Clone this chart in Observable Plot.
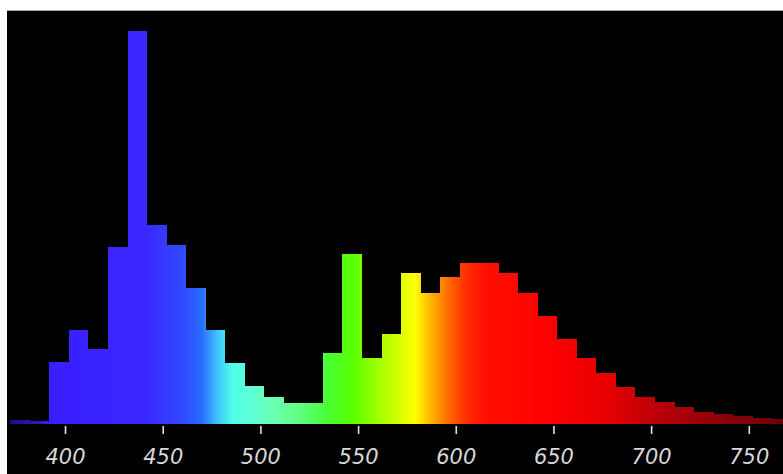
<!DOCTYPE html>
<html>
<head>
<meta charset="utf-8">
<script src="https://cdn.jsdelivr.net/npm/d3@7"></script>
<script src="https://cdn.jsdelivr.net/npm/@observablehq/plot@0.6"></script>
<style>
  html, body { margin: 0; padding: 0; background: #fff; width: 783px; height: 474px; overflow: hidden; }
  #frame { position: absolute; left: 7px; top: 10px; width: 776px; height: 463px; background: #000; border-top: 1px solid #a8a8a8; }
  #frame svg { display: block; background: #000; }
</style>
</head>
<body>
<div id="frame"></div>
<script>
// Wavelength bins (nm, bin start; each bin is 10 nm wide)
const binStart = [372, 382, 392, 402, 412, 422, 432, 442, 452, 462,
                  472, 482, 492, 502, 512, 522, 532, 542, 552, 562,
                  572, 582, 592, 602, 612, 622, 632, 642, 652, 662,
                  672, 682, 692, 702, 712, 722, 732, 742, 752, 762];
// Relative intensity per bin
const intensity = [4, 3, 62, 94, 75, 177, 393, 199, 179, 136,
                   94, 61, 38, 27, 21, 21, 71, 170, 66, 90,
                   151, 131, 147, 161, 161, 151, 131, 108, 85, 66,
                   51, 37, 27, 22, 17, 12, 10, 8, 6, 5];
const binWidth = 10;
// Tick labels (nm)
const tickValues = [400, 450, 500, 550, 600, 650, 700, 750];
// Spectral colour stops (wavelength nm, colour)
const stopWavelengths = [370, 385, 392, 440, 460, 470, 478, 486, 496, 506, 520, 535, 548, 560, 572, 579, 586, 595, 605, 615, 645, 675, 700, 730, 770];
const stopColors = ["#1c0c78", "#2c18b8", "#3a1eff", "#3a26ff", "#3048ff", "#2a6cff", "#40c4ff", "#50ffea", "#60ffd4", "#6cffb4", "#60ff84", "#48ff30", "#5cff00", "#a0ff00", "#dcff00", "#ffff00", "#ffc000", "#ff7400", "#ff3000", "#ff1000", "#ff0000", "#e80000", "#c00008", "#940008", "#6c0008"];

const bins = binStart.map((s, i) => ({x1: s, x2: s + binWidth, value: intensity[i]}));

const plot = Plot.plot({
  width: 776,
  height: 463,
  marginLeft: 0,
  marginRight: 0,
  marginTop: 0,
  marginBottom: 48,
  insetBottom: 2,
  style: {background: "#000", color: "#d8d8d8"},
  x: {domain: [370.3, 767.5]},
  y: {domain: [0, 413], axis: null},
  marks: [
    Plot.rectY(bins, {x1: "x1", x2: "x2", y: "value", fill: "url(#spectrum)", shapeRendering: "crispEdges"}),
    Plot.axisX({
      ticks: tickValues,
      tickSize: 8,
      tickPadding: 15,
      stroke: "#e0e0e0",
      strokeWidth: 1.6,
      fill: "#d8d8d8",
      fontSize: 21,
      fontStyle: "italic",
      fontFamily: "DejaVu Sans",
      label: null
    })
  ]
});

// Gradient across wavelength, positioned with the plot's own x scale
const xs = plot.scale("x");
const wMin = stopWavelengths[0], wMax = stopWavelengths[stopWavelengths.length - 1];
const svg = d3.select(plot);
const grad = svg.insert("defs", ":first-child")
  .append("linearGradient")
  .attr("id", "spectrum")
  .attr("gradientUnits", "userSpaceOnUse")
  .attr("x1", xs.apply(wMin)).attr("x2", xs.apply(wMax))
  .attr("y1", 0).attr("y2", 0);
stopWavelengths.forEach((w, i) => {
  grad.append("stop")
    .attr("offset", (w - wMin) / (wMax - wMin))
    .attr("stop-color", stopColors[i]);
});

document.getElementById("frame").appendChild(plot);
</script>
</body>
</html>
